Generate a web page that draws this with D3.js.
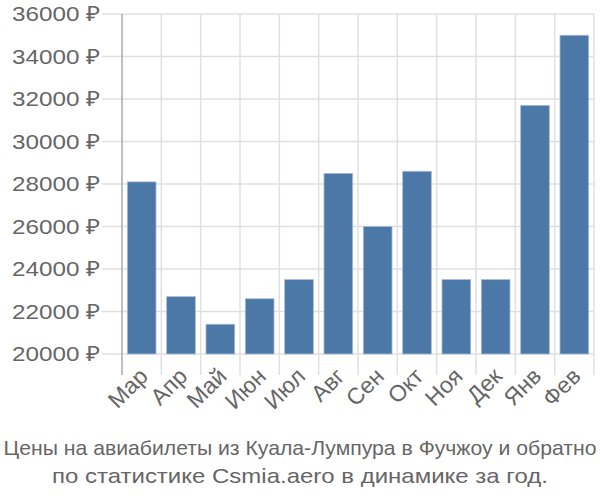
<!DOCTYPE html>
<html><head><meta charset="utf-8">
<script src="https://cdn.jsdelivr.net/npm/d3@7"></script>
<style>body{margin:0;background:#fff;} svg{display:block;font-family:"Liberation Sans",Arial,sans-serif;}</style>
</head><body>
<svg id="c" width="600" height="500"></svg>
<script>
const months = ["Мар","Апр","Май","Июн","Июл","Авг","Сен","Окт","Ноя","Дек","Янв","Фев"];
const prices = [28100,22700,21400,22600,23500,28500,26000,28600,23500,23500,31700,35000];
const yTicks = [20000,22000,24000,26000,28000,30000,32000,34000,36000];
const titleLines = ["Цены на авиабилеты из Куала-Лумпура в Фучжоу и обратно","по статистике Csmia.aero в динамике за год."];

const svg = d3.select("#c");
const L = 122, R = 594, T = 14, B = 354;
const x = d3.scaleBand().domain(months).range([L, R]).padding(0);
const y = d3.scaleLinear().domain([20000, 36000]).range([B, T]);
const grid = "#e0e0e0", txt = "#666";

// horizontal grid
svg.append("g").selectAll("line").data(yTicks).join("line")
  .attr("x1", L - 20).attr("x2", R).attr("y1", d => y(d)).attr("y2", d => y(d))
  .attr("stroke", grid).attr("stroke-width", 1.5);
// vertical grid
svg.append("g").selectAll("line").data(months.slice(1).concat(["__end"])).join("line")
  .attr("x1", d => d === "__end" ? R : x(d)).attr("x2", d => d === "__end" ? R : x(d))
  .attr("y1", T).attr("y2", B + 21)
  .attr("stroke", grid).attr("stroke-width", 1.5);

// bars
const bw = x.bandwidth() * 0.73;
const off = (x.bandwidth() - bw) / 2;
svg.append("g").selectAll("rect").data(months).join("rect")
  .attr("x", d => x(d) + off)
  .attr("width", bw)
  .attr("y", (d, i) => y(prices[i]))
  .attr("height", (d, i) => B - y(prices[i]))
  .attr("fill", "#4c78a8")
  .attr("stroke", "#a7bcd6").attr("stroke-width", 0.8);

// left axis line
svg.append("line").attr("x1", L).attr("x2", L).attr("y1", T).attr("y2", B + 21)
  .attr("stroke", "#aaa").attr("stroke-width", 1.5);

// y labels
svg.append("g").selectAll("text").data(yTicks).join("text")
  .attr("x", 100).attr("y", d => y(d)).attr("dy", "0.35em")
  .attr("text-anchor", "end").attr("fill", txt).attr("font-size", 21)
  .attr("textLength", 88).attr("lengthAdjust", "spacingAndGlyphs")
  .text(d => d + " ₽");

// x labels
svg.append("g").selectAll("text").data(months).join("text")
  .attr("transform", d => `translate(${x(d) + x.bandwidth() / 2 + 2},${B + 18}) rotate(-45)`)
  .attr("text-anchor", "end").attr("dy", "0.35em")
  .attr("fill", txt).attr("font-size", 23)
  .text(d => d);

// title
const tl = [593, 496];
svg.append("g").selectAll("text").data(titleLines).join("text")
  .attr("x", 300).attr("y", (d, i) => 455 + i * 28)
  .attr("text-anchor", "middle").attr("fill", txt).attr("font-size", 21)
  .attr("textLength", (d, i) => tl[i]).attr("lengthAdjust", "spacingAndGlyphs")
  .text(d => d);
</script>
</body></html>
